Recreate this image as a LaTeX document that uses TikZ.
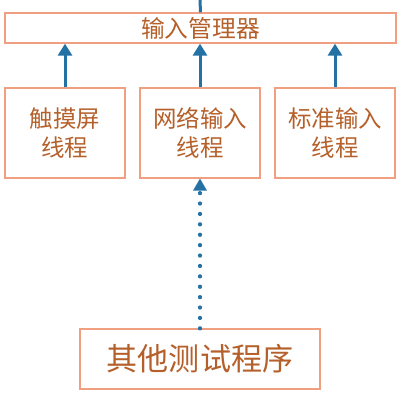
\documentclass[tikz,border=0pt]{standalone}
\usepackage{fontspec}
\setmainfont{Noto Sans CJK SC}
\usetikzlibrary{arrows.meta, positioning}
\definecolor{boxline}{HTML}{F0A080}
\definecolor{boxtext}{HTML}{B5602A}
\definecolor{flowblue}{HTML}{2471A3}

\begin{document}
\begin{tikzpicture}[
  x=0.75pt, y=-0.75pt,
  manager/.style={rectangle, draw=boxline, line width=1pt, text=boxtext, minimum width=293.25pt, minimum height=22.5pt, inner sep=0pt, font=\fontsize{17.8pt}{22pt}\selectfont},
  thread/.style={rectangle, draw=boxline, line width=1pt, text=boxtext, minimum width=90pt, minimum height=67.5pt, inner sep=0pt, align=center, font=\fontsize{17.6pt}{22pt}\selectfont},
  tester/.style={rectangle, draw=boxline, line width=1pt, text=boxtext, minimum width=180pt, minimum height=45pt, inner sep=0pt, font=\fontsize{23.3pt}{28pt}\selectfont},
  flow/.style={flowblue, line width=2.25pt, -{Triangle[length=9pt, width=10.5pt]}},
  dotflow/.style={flowblue, line width=3.2pt, line cap=round, dash pattern=on 0pt off 7.8pt, -{Triangle[length=9pt, width=10.5pt, line width=0pt]}}
]
\useasboundingbox (0,0) rectangle (403,415);

% Manager
\node[manager] (mgr) at (200.5,28) {输入管理器};
\coordinate (top) at (200,0);

% Threads
\node[thread] (net) at (200,133) {网络输入\\线程};
\node[thread, left=10.25pt of net] (touch) {触摸屏\\线程};
\node[thread, right=10.25pt of net] (std) {标准输入\\线程};

% Test program
\node[tester] (test) at (200,359) {其他测试程序};

% Connections
\draw[flowblue, line width=2.25pt] (top) -- (mgr.north);
\draw[flow] (touch.north) -- (touch.north |- mgr.south);
\draw[flow] (net.north) -- (net.north |- mgr.south);
\draw[flow] (std.north) -- (std.north |- mgr.south);
\draw[dotflow] (test.north) -- (net.south);

\end{tikzpicture}
\end{document}
